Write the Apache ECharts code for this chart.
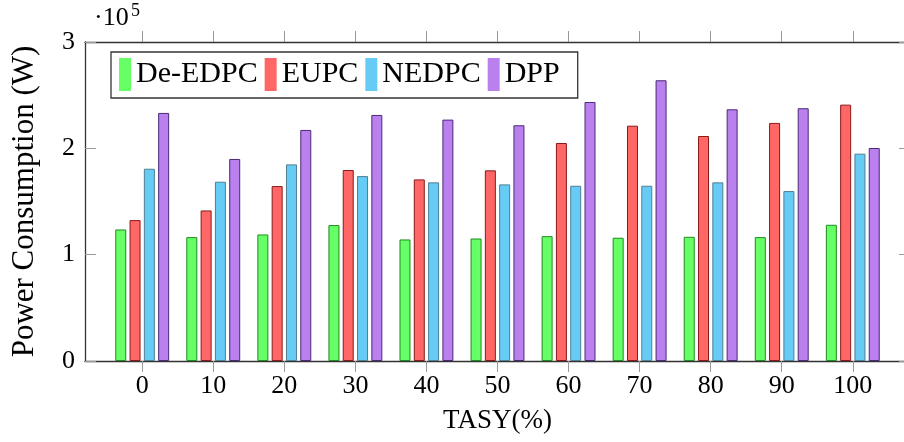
<!DOCTYPE html>
<html>
<head>
<meta charset="utf-8">
<script src="https://cdn.jsdelivr.net/npm/echarts@6/dist/echarts.min.js"></script>
<style>html,body{margin:0;padding:0;background:#fff;}#c{width:904px;height:442px;}</style>
</head>
<body>
<div id="c"></div>
<script>
const categories = [0, 10, 20, 30, 40, 50, 60, 70, 80, 90, 100];
const yTicks = [0, 100000, 200000, 300000];
const deEdpc = [123700, 116500, 119000, 127800, 114300, 115200, 117400, 115900, 116800, 116500, 128100];
const eupc   = [132500, 141600, 164500, 179600, 170800, 179300, 205000, 221300, 211600, 223900, 241100];
const nedpc  = [180800, 168600, 184900, 173900, 168000, 166100, 164800, 164800, 168000, 159800, 195000];
const dpp    = [233300, 190000, 217300, 231400, 227000, 221700, 243600, 264000, 236700, 237700, 200300];

const FONT = 'Liberation Serif';
const chart = echarts.init(document.getElementById('c'), null, {renderer: 'canvas'});
const mk = (arr) => categories.map((c, i) => [c, arr[i]]);
const seriesDefs = [
  {name: 'De-EDPC', data: deEdpc, color: '#66ff66', border: '#1f8a1f'},
  {name: 'EUPC', data: eupc, color: '#ff6666', border: '#8a1a1a'},
  {name: 'NEDPC', data: nedpc, color: '#66ccf5', border: '#4f7f92'},
  {name: 'DPP', data: dpp, color: '#b980ee', border: '#4a2a78'}
];
const xCommon = {
  type: 'value', min: -8.05, max: 108.05,
  splitLine: {show: false},
  axisLine: {show: true, onZero: false, lineStyle: {color: '#333', width: 1.3}}
};
const yCommon = {
  type: 'value', min: 0, max: 300000, interval: 100000,
  splitLine: {show: false},
  axisLine: {show: true, onZero: false, lineStyle: {color: '#333', width: 1.3}},
  axisTick: {show: true, inside: true, length: 11, lineStyle: {color: '#999'}}
};
chart.setOption({
  animation: false,
  grid: {left: 85, right: -6, top: 42, bottom: 81, containLabel: false, outerBoundsMode: 'none'},
  xAxis: [
    Object.assign({}, xCommon, {
      position: 'bottom',
      axisTick: {show: true, inside: false, length: 11, customValues: categories, lineStyle: {color: '#999'}},
      axisLabel: {show: true, customValues: categories, fontFamily: FONT, fontSize: 26, color: '#000', margin: 12},
      name: 'TASY(%)', nameLocation: 'middle', nameGap: 46,
      nameTextStyle: {fontFamily: FONT, fontSize: 27, color: '#000'}
    }),
    Object.assign({}, xCommon, {
      position: 'top',
      axisTick: {show: true, inside: false, length: 11, customValues: categories, lineStyle: {color: '#999'}},
      axisLabel: {show: false}
    })
  ],
  yAxis: [
    Object.assign({}, yCommon, {
      position: 'left',
      axisLabel: {show: true, fontFamily: FONT, fontSize: 26, color: '#000', margin: 10,
        formatter: (v) => String(v / 100000)},
      name: 'Power Consumption (W)', nameLocation: 'middle', nameGap: 45,
      nameTextStyle: {fontFamily: FONT, fontSize: 31, color: '#000'}
    }),
    Object.assign({}, yCommon, {
      position: 'right',
      axisLabel: {show: false}
    })
  ],
  legend: {
    left: 111, top: 52,
    orient: 'horizontal',
    icon: 'rect',
    itemWidth: 12, itemHeight: 33, itemGap: 7,
    padding: [6, 18, 7, 8],
    borderColor: '#333', borderWidth: 1.3,
    backgroundColor: '#fff',
    itemStyle: {borderWidth: 0},
    textStyle: {fontFamily: FONT, fontSize: 30, color: '#000', lineHeight: 33},
    data: seriesDefs.map(s => s.name)
  },
  graphic: [
    {type: 'text', left: 94, top: 5, style: {text: '·10', fontFamily: FONT, fontSize: 26, fill: '#000'}},
    {type: 'text', left: 131, top: 2, style: {text: '5', fontFamily: FONT, fontSize: 18, fill: '#000'}}
  ],
  series: seriesDefs.map(s => ({
    type: 'bar', name: s.name, xAxisIndex: 0, yAxisIndex: 0,
    data: mk(s.data),
    barWidth: 11, barGap: '30%',
    itemStyle: {color: s.color, borderColor: s.border, borderWidth: 1}
  }))
});
</script>
</body>
</html>
